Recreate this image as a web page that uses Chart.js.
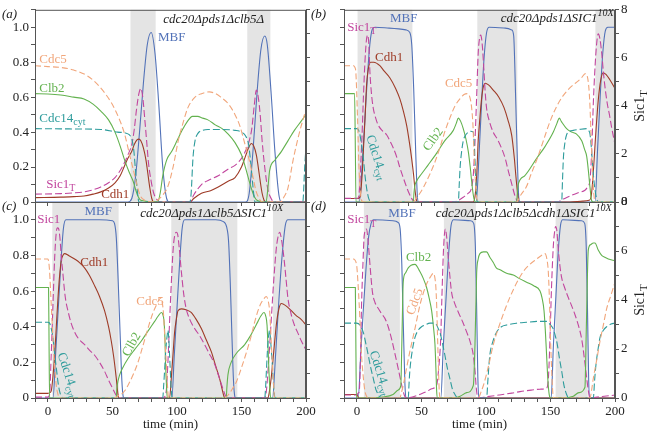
<!DOCTYPE html>
<html>
<head>
<meta charset="utf-8">
<script src="https://cdn.jsdelivr.net/npm/chart.js@4.4.1/dist/chart.umd.min.js"></script>
<style>
  body { margin: 0; background: #fff; }
  #wrap { position: relative; width: 650px; height: 432px; }
  canvas { position: absolute; left: 0; top: 0; }
</style>
</head>
<body>
<div id="wrap">
  <canvas id="pa" width="650" height="432"></canvas>
  <canvas id="pb" width="650" height="432"></canvas>
  <canvas id="pc" width="650" height="432"></canvas>
  <canvas id="pd" width="650" height="432"></canvas>
</div>
<script>
// tick labels
const xTickLabels = [0, 50, 100, 150, 200];
const yTickLabels = [0, 0.2, 0.4, 0.6, 0.8, 1.0];
const rightTickLabels = [0, 2, 4, 6, 8];

// (a) cdc20Δpds1Δclb5Δ  -- [time, level]
const aBands = [[64, 83.5], [154.5, 172.4]];
const aMBF = [[-10,0],[62,0],[65,0.02],[68,0.15],[71,0.4],[74,0.68],[77,0.9],[80,0.97],[83,0.85],[86,0.55],[89,0.2],[92,0.02],[94,0],[153,0],[156,0.05],[159,0.3],[162,0.62],[165,0.87],[168,0.95],[170,0.9],[173,0.62],[176,0.28],[179,0.04],[181,0],[200,0]];
const aCdc5 = [[-10,0.78],[0,0.775],[10,0.77],[20,0.755],[31,0.72],[40,0.66],[49,0.57],[55,0.48],[59.4,0.39],[63,0.28],[67,0.16],[70,0.07],[72,0.03],[75,0.01],[83,0],[85,0.01],[89,0.04],[93,0.09],[97,0.2],[101,0.35],[105,0.46],[108.5,0.54],[114,0.6],[119,0.62],[125,0.63],[130,0.62],[134,0.6],[140,0.56],[145,0.5],[149,0.43],[152,0.35],[156,0.24],[159,0.14],[161,0.07],[163,0.03],[166,0],[180,0],[183,0.03],[186,0.08],[190,0.24],[195,0.4],[200,0.53]];
const aClb2 = [[-10,0.62],[0,0.618],[10,0.612],[20,0.6],[28,0.59],[35,0.56],[41,0.52],[47,0.47],[52,0.4],[56,0.32],[59,0.25],[63,0.17],[66,0.12],[68,0.07],[70,0.03],[72,0.01],[85,0],[87,0.05],[89,0.15],[92,0.24],[96,0.29],[100,0.35],[104,0.41],[108,0.46],[112,0.49],[116,0.49],[120,0.48],[124,0.47],[130,0.44],[135,0.42],[139.5,0.39],[145,0.34],[150,0.27],[153,0.2],[156,0.12],[158,0.07],[160,0.03],[162,0.01],[169,0],[170.5,0.08],[171.8,0.18],[176,0.24],[181,0.29],[186,0.35],[191,0.41],[196,0.46],[200,0.5]];
const aCdc14 = [[-10,0.42],[20,0.418],[41,0.415],[54,0.4],[60,0.395],[63,0.385],[65,0.36],[66.5,0.3],[68,0.17],[69.5,0.05],[70.5,0],[110,0],[111,0.05],[112.4,0.25],[114,0.35],[116,0.39],[120,0.41],[124,0.415],[135,0.415],[145,0.41],[150,0.4],[153,0.38],[155.5,0.33],[157.5,0.2],[159,0.08],[160.5,0],[197.5,0],[199,0.2],[200,0.32]];
const aSic1 = [[-10,0.045],[10,0.048],[20,0.052],[28,0.058],[35,0.07],[41,0.086],[47,0.11],[52,0.14],[56,0.18],[59,0.22],[62,0.27],[65,0.33],[67,0.42],[68.5,0.52],[70.5,0.62],[72,0.65],[73.5,0.6],[75,0.48],[76.5,0.35],[78,0.22],[80,0.12],[82,0.05],[85,0.01],[88,0],[110,0],[113,0.04],[119,0.1],[126,0.13],[132,0.15],[140,0.19],[145,0.21],[150,0.25],[153,0.29],[156,0.35],[158,0.42],[160,0.56],[161.5,0.64],[163,0.6],[164.5,0.5],[166,0.35],[168,0.2],[170.5,0.07],[173,0.02],[175,0],[200,0]];
const aCdh1 = [[-10,0.025],[10,0.028],[20,0.031],[28,0.034],[35,0.045],[41,0.058],[47,0.08],[52,0.11],[56,0.15],[59,0.2],[62,0.25],[65,0.29],[67,0.33],[69,0.355],[70.5,0.36],[72,0.35],[74,0.31],[76,0.24],[77.5,0.16],[79,0.08],[80.5,0.02],[82,0],[110,0],[113,0.02],[119,0.05],[126,0.065],[132,0.086],[140,0.12],[145,0.14],[150,0.2],[153,0.26],[155.5,0.31],[157.7,0.335],[159.5,0.32],[161.5,0.27],[163,0.2],[164.5,0.12],[166,0.05],[167.5,0.01],[169,0],[200,0]];

// (b) cdc20Δpds1ΔSIC1^10X  -- Sic1T on right axis
const bBands = [[0.5, 43], [93.3, 124.3], [184.8, 200]];
const bMBF = [[-10,0],[1.8,0],[4,0.2],[6,0.45],[8,0.7],[10,0.9],[12,0.99],[14,1.0],[25,0.995],[38,0.985],[41,0.97],[42.5,0.9],[44,0.65],[45.5,0.3],[46.8,0.04],[47.8,0],[92.5,0],[94.5,0.25],[96.5,0.55],[98.5,0.82],[100.5,0.97],[102.5,1.0],[115,0.995],[120,0.985],[121.5,0.95],[123,0.6],[124.5,0.2],[125.5,0.02],[126.5,0],[184.5,0],[186.5,0.3],[188.5,0.6],[190.5,0.85],[192.5,0.98],[194.5,1.0],[200,1.0]];
const bCdh1 = [[-10,0.02],[1,0.02],[2.5,0.03],[4,0.15],[5,0.29],[6.3,0.48],[7.5,0.67],[8.8,0.76],[10.5,0.8],[13,0.8],[17.8,0.78],[21,0.75],[25.6,0.71],[30,0.65],[33.3,0.59],[36,0.52],[38.5,0.44],[40.5,0.35],[42.4,0.25],[44,0.15],[45,0.07],[46.2,0.01],[47,0],[90,0],[91.5,0.03],[92.8,0.15],[94,0.35],[95.3,0.48],[96.6,0.59],[98,0.66],[99.5,0.68],[102,0.67],[105.7,0.64],[110,0.6],[114,0.54],[117,0.47],[120,0.38],[122,0.25],[123.3,0.14],[124.5,0.05],[125.5,0],[165,0],[175,0.005],[180,0.01],[181.5,0.03],[183,0.15],[185,0.38],[187,0.58],[189,0.7],[190.8,0.74],[193,0.73],[196,0.7],[200,0.65]];
const bSic1 = [[-10,0.15],[0.5,0.15],[1.5,0.25],[3,1.6],[4,2.8],[5,4.3],[6.2,5.8],[7.3,6.7],[8.3,6.95],[9.2,6.6],[10,5.5],[11.3,4.5],[12.7,3.9],[14.5,3.5],[16.5,3.2],[20,2.95],[23,2.8],[26,2.5],[28.2,2.25],[31,1.85],[33.3,1.43],[36,1.0],[38.5,0.62],[40.5,0.35],[42.4,0.15],[44,0.03],[46,0],[75,0],[79,0.08],[82.4,0.2],[86,0.35],[88.9,0.6],[90.3,1.2],[91.5,2.5],[92.8,4.4],[94,6.2],[95,6.8],[96,6.95],[97.2,6.5],[98.4,5.5],[99.5,4.5],[100.5,3.9],[103,3.3],[105.7,2.9],[109,2.6],[112,2.25],[115,1.8],[117.3,1.3],[119.5,0.85],[121.2,0.5],[122.5,0.25],[123.8,0.08],[125,0],[155,0],[160,0.12],[166.4,0.28],[172,0.4],[176.7,0.49],[179,0.65],[180.6,0.9],[182,2.2],[183.2,4.1],[184.5,5.6],[185.8,6.6],[187,7.0],[188.3,6.8],[189.7,6.2],[191,5.4],[192.2,4.8],[194,4.1],[195.8,3.6],[197.4,3.1],[200,2.4]];
const bCdc5 = [[-10,0.78],[-2.8,0.78],[-1.5,0.77],[-0.8,0.74],[0.5,0.48],[1.5,0.22],[2.5,0.08],[3.6,0.01],[5,0],[43.7,0],[46,0.02],[48.8,0.05],[52,0.09],[56.6,0.16],[60,0.22],[64.3,0.31],[68,0.4],[72,0.48],[76,0.55],[79.8,0.59],[83,0.615],[85.5,0.62],[87.5,0.6],[88.9,0.54],[90,0.43],[90.7,0.29],[91.8,0.12],[92.8,0.03],[94,0],[123.8,0],[127,0.04],[131.5,0.09],[135,0.16],[139.3,0.24],[144,0.34],[149.6,0.46],[155,0.55],[160,0.61],[166,0.66],[171,0.69],[174,0.71],[177,0.735],[178.5,0.72],[179.8,0.65],[180.6,0.55],[181.6,0.35],[182.7,0.15],[183.8,0.03],[185,0],[200,0]];
const bClb2 = [[-10,0.62],[-1.8,0.62],[-1.2,0.3],[-0.7,0],[43.7,0],[44.2,0.05],[44.8,0.09],[46.3,0.12],[50,0.16],[55,0.21],[61.8,0.28],[68,0.35],[74.7,0.41],[77,0.45],[78.6,0.48],[80.5,0.46],[82.4,0.42],[84.5,0.36],[86.3,0.29],[87.8,0.2],[88.9,0.12],[90,0.05],[90.7,0.02],[92,0],[123.8,0],[124.3,0.05],[125,0.1],[130,0.15],[139.3,0.25],[146,0.32],[152.2,0.4],[155,0.45],[156.8,0.48],[158.5,0.46],[162.5,0.42],[166.4,0.4],[170,0.39],[174.2,0.35],[176.5,0.3],[178.1,0.26],[179.5,0.17],[180.6,0.085],[181.8,0.01],[183,0],[200,0]];
const bCdc14 = [[-10,0.42],[0,0.42],[1,0.415],[2.5,0.38],[3.7,0.32],[5,0.25],[6.3,0.15],[7.5,0.08],[8.8,0.03],[10,0.005],[11,0],[78.6,0],[79.3,0.1],[80,0.2],[81,0.28],[82.4,0.35],[84,0.38],[86.3,0.4],[88,0.405],[90.2,0.4],[90.9,0.33],[91.5,0.24],[92.2,0.12],[92.8,0.03],[93.5,0],[158.7,0],[159.3,0.12],[160,0.25],[161,0.33],[162.5,0.385],[165,0.405],[167.7,0.41],[172,0.415],[178,0.42],[179.5,0.41],[180.6,0.39],[181.8,0.3],[183.2,0.16],[184.5,0.07],[185.8,0.02],[187,0],[200,0]];

// (c) cdc20Δpds1Δclb5ΔSIC1^10X
const cBands = [[3.4, 54.8], [95.6, 146.8], [174.4, 200]];
const cMBF = [[-10,0],[4,0],[6,0.25],[8,0.5],[10,0.75],[12,0.95],[14,1.0],[40,1.0],[50,0.995],[51.6,0.98],[53,0.9],[54.5,0.65],[56,0.35],[57.3,0.1],[58.3,0.01],[59,0],[96,0],[98,0.25],[100,0.5],[102,0.75],[104,0.95],[106,1.0],[130,1.0],[136,0.99],[138.5,0.96],[140,0.88],[141.3,0.65],[142.6,0.35],[143.8,0.1],[144.8,0.01],[145.5,0],[174,0],[176.5,0.25],[179,0.55],[181.5,0.8],[184,0.97],[186,1.0],[200,1.0]];
const cCdh1 = [[-10,0.026],[0,0.026],[1.5,0.03],[2.6,0.04],[3.9,0.12],[5.2,0.24],[6.5,0.4],[7.8,0.56],[9,0.68],[10.3,0.77],[11.6,0.8],[12.9,0.81],[16,0.8],[20.7,0.78],[24.5,0.76],[28.4,0.73],[32,0.69],[36.2,0.63],[40,0.57],[43.9,0.49],[47,0.4],[49.1,0.32],[51,0.23],[53,0.11],[54.3,0.02],[55,0],[94.3,0],[95.6,0.11],[97,0.25],[98.2,0.37],[99.5,0.44],[100.8,0.49],[103.4,0.5],[107,0.495],[111,0.48],[115,0.44],[118.9,0.39],[122.5,0.33],[126.6,0.26],[130,0.18],[133,0.11],[135,0.05],[136.4,0.01],[137,0],[170.5,0],[171.5,0.03],[173,0.11],[175,0.26],[177,0.41],[179,0.5],[180.9,0.53],[184,0.52],[188.6,0.49],[192,0.465],[196.4,0.44],[200,0.41]];
const cSic1 = [[-10,0.005],[0,0.005],[1.3,0.02],[2.6,0.25],[3.9,0.52],[5.2,0.78],[6.5,0.93],[7.5,0.955],[8.3,0.95],[9.3,0.9],[10.3,0.8],[11.6,0.7],[12.9,0.6],[14,0.54],[15.5,0.49],[18,0.42],[20.7,0.37],[24,0.33],[28.4,0.3],[32,0.27],[36.2,0.24],[40,0.2],[43.9,0.15],[47,0.1],[50.4,0.05],[52.5,0.02],[54.3,0.005],[56,0],[88,0],[90,0.005],[91.7,0.04],[93,0.2],[94.3,0.43],[96,0.7],[97.2,0.85],[98.2,0.91],[99.5,0.93],[100.5,0.92],[101.8,0.84],[103.4,0.71],[105.3,0.58],[107.2,0.5],[110,0.44],[113.7,0.39],[117.5,0.35],[121.4,0.3],[125,0.25],[129.2,0.19],[132.5,0.12],[135.7,0.05],[137.5,0.015],[139.5,0],[168,0],[169.3,0.04],[171,0.2],[173,0.43],[175,0.66],[177,0.84],[178.5,0.91],[179.6,0.93],[181,0.89],[183,0.78],[184.5,0.67],[186,0.56],[188.5,0.47],[191,0.41],[194,0.36],[196.4,0.32],[200,0.27]];
const cCdc5 = [[-10,0.78],[0,0.78],[0.7,0.76],[1.3,0.71],[2.6,0.52],[3.9,0.34],[5.2,0.18],[6.5,0.07],[7.8,0.02],[9,0],[51.7,0],[54,0.01],[56.8,0.02],[60,0.045],[62,0.07],[66,0.13],[69.8,0.2],[73.5,0.29],[77.5,0.39],[81,0.47],[84,0.52],[86,0.55],[87.3,0.56],[88.5,0.54],[89.5,0.48],[90.5,0.35],[91.7,0.2],[92.6,0.08],[93.5,0],[137,0],[140,0.02],[142,0.04],[146,0.09],[150,0.17],[154,0.26],[157.6,0.35],[160,0.42],[162.8,0.49],[165,0.53],[166.7,0.55],[169.3,0.57],[170.5,0.55],[171.8,0.49],[172.7,0.37],[173.6,0.24],[174.7,0.1],[175.7,0],[200,0]];
const cClb2 = [[-10,0.62],[0.5,0.62],[0.9,0.3],[1.3,0],[53,0],[53.3,0.04],[53.7,0.07],[55.6,0.13],[58,0.17],[62,0.22],[67,0.27],[72.4,0.32],[77,0.37],[82.7,0.43],[85.5,0.46],[87.9,0.48],[89,0.47],[90,0.43],[90.7,0.33],[91.2,0.19],[91.9,0.07],[92.5,0],[138.2,0],[138.7,0.06],[139.5,0.13],[142,0.2],[146,0.25],[152.5,0.3],[157,0.35],[162.8,0.43],[165,0.46],[167.4,0.48],[168.8,0.46],[169.8,0.41],[170.6,0.28],[171.3,0.15],[172,0.05],[172.6,0],[200,0]];
const cCdc14 = [[-10,0.425],[0,0.425],[1.3,0.42],[2.6,0.39],[3.9,0.34],[5.2,0.25],[6.5,0.17],[7.8,0.09],[9,0.04],[10.3,0.01],[11.6,0],[89,0],[89.7,0.07],[90.4,0.15],[91.1,0.24],[91.7,0.3],[92.4,0.35],[93,0.38],[93.7,0.33],[94.3,0.24],[95,0.13],[95.6,0.04],[96.5,0],[168,0],[168.7,0.06],[169.3,0.15],[170,0.25],[170.5,0.31],[171.2,0.36],[171.8,0.38],[172.6,0.32],[173.6,0.22],[174.4,0.12],[175.2,0.04],[176,0],[200,0]];

// (d) cdc20Δpds1Δclb5Δcdh1ΔSIC1^10X  -- Sic1T on right axis
const dBands = [[5.4, 33.3], [67.4, 92.2], [154, 178.8]];
const dMBF = [[-10,0],[1,0],[3,0.25],[5,0.5],[7,0.72],[9,0.9],[11,0.98],[13,1.0],[28,0.995],[32,0.985],[33.5,0.95],[34.8,0.75],[36,0.4],[37.2,0.08],[38,0],[65,0],[67,0.3],[69,0.55],[71,0.8],[73,0.97],[75,1.0],[88,0.995],[90.5,0.98],[91.8,0.85],[92.8,0.5],[93.7,0.12],[94.5,0],[150.5,0],[152.3,0.3],[154.2,0.57],[156,0.82],[157.8,0.97],[159.5,1.0],[174,0.995],[176.5,0.98],[177.7,0.85],[178.8,0.45],[179.6,0.1],[180.5,0],[200,0]];
const dCdh1 = [[-10,0.02],[0,0.02],[1,0.005],[2,0],[200,0]];
const dSic1 = [[-10,0.12],[0,0.12],[1,0.2],[1.8,0.26],[2.7,1.5],[3.6,3.8],[4.7,5.5],[5.7,6.65],[7.5,6.9],[8.5,6.5],[9.6,5.8],[10.8,5.0],[12.1,4.3],[14,3.9],[16.5,3.66],[19,3.45],[21.7,3.25],[24,2.95],[26.9,2.4],[29.5,1.8],[32,1.2],[34,0.7],[35.9,0.26],[37,0.08],[38,0],[43.7,0.05],[49,0.15],[54,0.26],[58,0.38],[61.8,0.53],[63.2,1.1],[64.9,2.4],[65.8,4.0],[66.9,5.8],[67.7,6.6],[68.5,6.9],[69.5,6.6],[70.8,5.7],[72,5.0],[73.4,4.3],[75.5,3.9],[78.6,3.5],[82,3.1],[85,2.7],[88,2.25],[90.2,1.75],[91.5,1.1],[92.8,0.26],[94,0],[100.5,0.05],[110,0.12],[120,0.2],[126.4,0.26],[135,0.32],[142,0.36],[147,0.4],[148.5,0.9],[149.6,2.4],[150.8,4.5],[152.2,6.2],[153,6.7],[154,7.0],[155,6.8],[156,6.1],[157.3,5.4],[158.7,4.9],[161,4.5],[163.8,4.1],[166.5,3.75],[169,3.4],[171.7,2.95],[174.2,2.4],[176.3,1.6],[178.1,0.8],[179.5,0.25],[180.6,0],[185,0.03],[190,0.06],[195,0.09],[200,0.12]];
const dCdc5 = [[-10,0.78],[-2.8,0.78],[-0.3,0.75],[0.8,0.65],[1.8,0.52],[2.7,0.38],[3.6,0.24],[4.9,0.12],[6.2,0.04],[7.5,0.01],[9,0],[33.3,0],[34.5,0.03],[35.9,0.07],[38,0.15],[41,0.26],[45,0.39],[48.8,0.52],[51.5,0.59],[54,0.64],[57,0.68],[59.2,0.7],[60.3,0.68],[61.2,0.62],[61.9,0.5],[62.5,0.34],[63.2,0.17],[63.8,0.04],[64.5,0],[94,0],[96,0.03],[98,0.07],[102,0.18],[105.7,0.3],[110,0.4],[116,0.52],[122,0.62],[129,0.71],[134,0.75],[139.3,0.78],[143,0.8],[145.7,0.81],[147.2,0.78],[148.3,0.71],[149.2,0.55],[150,0.34],[150.9,0.16],[151.7,0.04],[152.5,0],[180.6,0],[182,0.05],[183.2,0.11],[186,0.22],[188.4,0.32],[191,0.41],[193.5,0.5],[197,0.58],[200,0.65]];
const dClb2 = [[-10,0.62],[-1.2,0.62],[-0.8,0.3],[-0.4,0],[10,0],[20,0.005],[28,0.02],[32,0.045],[34,0.07],[34.8,0.3],[35.9,0.65],[37.5,0.7],[39.8,0.73],[42,0.745],[45,0.75],[48.8,0.71],[51.5,0.67],[54,0.62],[56,0.56],[57.9,0.49],[59.3,0.4],[60.5,0.3],[61.2,0.17],[61.8,0.04],[62.5,0],[75,0],[80,0.01],[85,0.03],[90.2,0.07],[91.5,0.3],[92.8,0.7],[94,0.78],[95.3,0.81],[98,0.82],[100.5,0.82],[103,0.79],[105.7,0.76],[108,0.73],[110.9,0.72],[116,0.7],[121.2,0.69],[126,0.67],[131.5,0.65],[137,0.63],[141.9,0.6],[143.5,0.56],[145,0.49],[146,0.38],[147,0.24],[148,0.1],[149,0.02],[150,0],[160,0],[167.7,0.01],[172,0.03],[176.7,0.06],[177.8,0.4],[179.3,0.83],[181,0.86],[183.2,0.87],[184.5,0.87],[187,0.83],[189.7,0.8],[192,0.79],[194.8,0.78],[200,0.77]];
const dCdc14 = [[-10,0.42],[-0.3,0.42],[2.3,0.41],[4.9,0.37],[6.8,0.31],[8.8,0.24],[10.7,0.17],[12.7,0.11],[14.6,0.05],[16.5,0.02],[18.5,0],[39.8,0],[40.4,0.08],[41,0.15],[43,0.27],[45,0.34],[47.5,0.38],[50.1,0.4],[53,0.41],[56.6,0.42],[59,0.42],[61.8,0.41],[63,0.39],[64.3,0.37],[66.2,0.31],[68.2,0.24],[70,0.17],[72,0.11],[74,0.05],[76,0.02],[78,0],[100.5,0],[101.5,0.1],[103,0.24],[105.5,0.32],[108.3,0.37],[112,0.4],[116,0.41],[124,0.42],[131.5,0.425],[140,0.43],[147,0.43],[150,0.41],[152,0.39],[153.7,0.35],[155.3,0.3],[157,0.22],[158.7,0.15],[160.5,0.07],[162.5,0.02],[164,0],[183.2,0],[184.2,0.1],[185.3,0.19],[186.8,0.27],[188.4,0.34],[191,0.38],[193.5,0.4],[197,0.415],[200,0.42]];

const FONT = "'Liberation Serif', 'Times New Roman', Times, serif";
const COL = {
  mbf: '#5272b8', cdh1: '#9e3b27', sic: '#c2469e', cdc5: '#f1a67b',
  clb2: '#63b24f', cdc14: '#2e9c9c', band: '#e4e4e4', axis: '#555', text: '#222'
};
Chart.defaults.font.family = FONT;

// draws text made of plain / sub / sup parts
function richText(ctx, x, y, parts, o) {
  const size = o.size || 13;
  const style = o.italic ? 'italic ' : '';
  ctx.save();
  ctx.translate(x, y);
  if (o.rot) ctx.rotate(o.rot * Math.PI / 180);
  ctx.fillStyle = o.color || COL.text;
  ctx.textBaseline = 'middle';
  let w = 0;
  const m = parts.map(p => {
    const f = style + (p[1] ? Math.round(size * 0.78) : size) + 'px ' + FONT;
    ctx.font = f;
    const pw = ctx.measureText(p[0]).width;
    w += pw;
    return [f, pw];
  });
  let cx = o.align === 'right' ? -w : o.align === 'center' ? -w / 2 : 0;
  parts.forEach((p, i) => {
    ctx.font = m[i][0];
    const dy = p[1] === 'sub' ? size * 0.32 : p[1] === 'sup' ? -size * 0.38 : 0;
    ctx.fillText(p[0], cx, dy);
    cx += m[i][1];
  });
  ctx.restore();
}

const bandsPlugin = {
  id: 'bands',
  beforeDatasetsDraw(chart, args, opts) {
    const { ctx, chartArea: a, scales: { x } } = chart;
    ctx.save();
    ctx.fillStyle = COL.band;
    opts.list.forEach(b => {
      const x0 = Math.max(x.getPixelForValue(b[0]), a.left);
      const x1 = Math.min(x.getPixelForValue(b[1]), a.right);
      ctx.fillRect(x0, a.top, x1 - x0, a.bottom - a.top);
    });
    ctx.restore();
  }
};

const textPlugin = {
  id: 'texts',
  afterDraw(chart, args, opts) {
    const { ctx, chartArea: a, scales: { x, y } } = chart;
    ctx.save();
    ctx.strokeStyle = COL.axis;
    ctx.lineWidth = 1;
    ctx.strokeRect(a.left + 0.5, a.top + 0.5, a.right - a.left - 1, a.bottom - a.top);
    ctx.restore();
    opts.labels.forEach(l => {
      richText(ctx, x.getPixelForValue(l.at[0]), y.getPixelForValue(l.at[1]), l.parts,
        { color: l.color, rot: l.rot, align: l.align, italic: l.italic });
    });
    richText(ctx, a.left - 33, a.top + 5, [['(' + opts.letter + ')', '']], { italic: true });
    if (opts.rightTitle) {
      richText(ctx, a.right + 25, (a.top + a.bottom) / 2, [['Sic1', ''], ['T', 'sub']], { rot: -90, align: 'center', size: 14 });
    }
    if (opts.xTitle) {
      richText(ctx, (a.left + a.right) / 2, a.bottom + 27, [['time (min)', '']], { align: 'center' });
    }
  }
};

function panel(id, p) {
  const pts = arr => arr.map(q => ({ x: q[0], y: q[1] }));
  const line = (arr, color, dash, axis) => ({
    data: pts(arr), borderColor: color, borderDash: dash, borderWidth: 1.1,
    pointRadius: 0, yAxisID: axis, cubicInterpolationMode: 'monotone', fill: false
  });
  const sicAxis = p.sicRight ? 'y1' : 'y';
  const tickFont = { family: FONT, size: 13 };
  const near = (list, v) => list.some(l => Math.abs(l - v) < 1e-6);
  return new Chart(document.getElementById(id), {
    type: 'line',
    data: {
      datasets: [
        line(p.cdc5, COL.cdc5, [6, 3], 'y'),
        line(p.cdc14, COL.cdc14, [7, 3], 'y'),
        line(p.clb2, COL.clb2, [], 'y'),
        line(p.sic1, COL.sic, [7, 3], sicAxis),
        line(p.cdh1, COL.cdh1, [], 'y'),
        line(p.mbf, COL.mbf, [], 'y')
      ]
    },
    options: {
      responsive: false,
      animation: false,
      events: [],
      layout: { padding: { left: p.box.padL, right: p.box.padR, top: p.box.top, bottom: p.box.padB } },
      plugins: {
        legend: { display: false },
        tooltip: { enabled: false },
        bands: { list: p.bands },
        texts: { labels: p.labels, letter: p.letter, rightTitle: p.sicRight, xTitle: p.xLabels }
      },
      scales: {
        x: {
          type: 'linear', min: -10, max: 200,
          afterFit: s => { s.height = p.xLabels ? 22 : 8; },
          ticks: { stepSize: 10, autoSkip: false, maxRotation: 0, padding: 2, color: COL.text, font: tickFont,
                   callback: v => (p.xLabels && near(xTickLabels, v)) ? String(v) : '' },
          grid: { drawOnChartArea: false, tickLength: 4, color: COL.axis },
          border: { color: COL.axis }
        },
        y: {
          min: 0, max: 1.1,
          afterFit: s => { s.width = p.box.yW; },
          ticks: { stepSize: 0.1, autoSkip: false, padding: 2, color: COL.text, font: tickFont,
                   callback: v => (p.yLabels && near(yTickLabels, v)) ? (v === 0 ? '0' : v.toFixed(1)) : '' },
          grid: { drawOnChartArea: false, tickLength: 4, color: COL.axis },
          border: { color: COL.axis }
        },
        y1: {
          position: 'right', min: 0, max: 8,
          afterFit: s => { s.width = 14; },
          ticks: { stepSize: 1, autoSkip: false, padding: 2, color: COL.text, font: tickFont,
                   callback: v => (p.sicRight && near(rightTickLabels, v)) ? String(v) : '' },
          grid: { drawOnChartArea: false, tickLength: 4, color: COL.axis },
          border: { color: COL.axis }
        }
      }
    },
    plugins: [bandsPlugin, textPlugin]
  });
}

const lbl = (at, parts, color, extra) => Object.assign({ at, parts, color }, extra || {});
const sic = [['Sic1', ''], ['T', 'sub']];
const c14 = [['Cdc14', ''], ['cyt', 'sub']];

panel('pa', {
  letter: 'a', box: { padL: 0, yW: 35, padR: 330, top: 6, padB: 222 },
  yLabels: true, xLabels: false, sicRight: false, bands: aBands,
  mbf: aMBF, cdh1: aCdh1, sic1: aSic1, cdc5: aCdc5, clb2: aClb2, cdc14: aCdc14,
  labels: [
    lbl([85.3, 0.94], [['MBF', '']], COL.mbf),
    lbl([-6.7, 0.815], [['Cdc5', '']], COL.cdc5),
    lbl([-6.7, 0.65], [['Clb2', '']], COL.clb2),
    lbl([-6.7, 0.48], c14, COL.cdc14),
    lbl([-1.3, 0.1], sic, COL.sic),
    lbl([41.3, 0.045], [['Cdh1', '']], COL.cdh1),
    lbl([128.5, 1.045], [['cdc20Δpds1Δclb5Δ', '']], COL.text, { italic: true, align: 'center' })
  ]
});

panel('pb', {
  letter: 'b', box: { padL: 330, yW: 14, padR: 21, top: 6, padB: 222 },
  yLabels: false, xLabels: false, sicRight: true, bands: bBands,
  mbf: bMBF, cdh1: bCdh1, sic1: bSic1, cdc5: bCdc5, clb2: bClb2, cdc14: bCdc14,
  labels: [
    lbl([25.6, 1.05], [['MBF', '']], COL.mbf),
    lbl([-7.5, 1.0], sic, COL.sic),
    lbl([14, 0.826], [['Cdh1', '']], COL.cdh1),
    lbl([68.2, 0.676], [['Cdc5', '']], COL.cdc5),
    lbl([59.2, 0.358], [['Clb2', '']], COL.clb2, { rot: -55, align: 'center' }),
    lbl([15.2, 0.255], c14, COL.cdc14, { rot: 72, align: 'center' }),
    lbl([199, 1.05], [['cdc20Δpds1ΔSIC1', ''], ['10X', 'sup']], COL.text, { italic: true, align: 'right' })
  ]
});

panel('pc', {
  letter: 'c', box: { padL: 0, yW: 35, padR: 330, top: 202, padB: 12 },
  yLabels: true, xLabels: true, sicRight: false, bands: cBands,
  mbf: cMBF, cdh1: cCdh1, sic1: cSic1, cdc5: cCdc5, clb2: cClb2, cdc14: cCdc14,
  labels: [
    lbl([28.4, 1.047], [['MBF', '']], COL.mbf),
    lbl([-8.3, 1.0], [['Sic1', '']], COL.sic),
    lbl([25, 0.76], [['Cdh1', '']], COL.cdh1),
    lbl([68.5, 0.54], [['Cdc5', '']], COL.cdc5),
    lbl([65, 0.3], [['Clb2', '']], COL.clb2, { rot: -60, align: 'center' }),
    lbl([15.5, 0.13], c14, COL.cdc14, { rot: 72, align: 'center' }),
    lbl([126.9, 1.037], [['cdc20Δpds1Δclb5ΔSIC1', ''], ['10X', 'sup']], COL.text, { italic: true, align: 'center' })
  ]
});

panel('pd', {
  letter: 'd', box: { padL: 330, yW: 14, padR: 21, top: 202, padB: 12 },
  yLabels: false, xLabels: true, sicRight: true, bands: dBands,
  mbf: dMBF, cdh1: dCdh1, sic1: dSic1, cdc5: dCdc5, clb2: dClb2, cdc14: dCdc14,
  labels: [
    lbl([24.3, 1.037], [['MBF', '']], COL.mbf),
    lbl([-7.5, 1.0], sic, COL.sic),
    lbl([38, 0.79], [['Clb2', '']], COL.clb2),
    lbl([45, 0.54], [['Cdc5', '']], COL.cdc5, { rot: -70, align: 'center' }),
    lbl([17.8, 0.14], c14, COL.cdc14, { rot: 72, align: 'center' }),
    lbl([197.4, 1.037], [['cdc20Δpds1Δclb5Δcdh1ΔSIC1', ''], ['10X', 'sup']], COL.text, { italic: true, align: 'right' })
  ]
});
</script>
</body>
</html>
